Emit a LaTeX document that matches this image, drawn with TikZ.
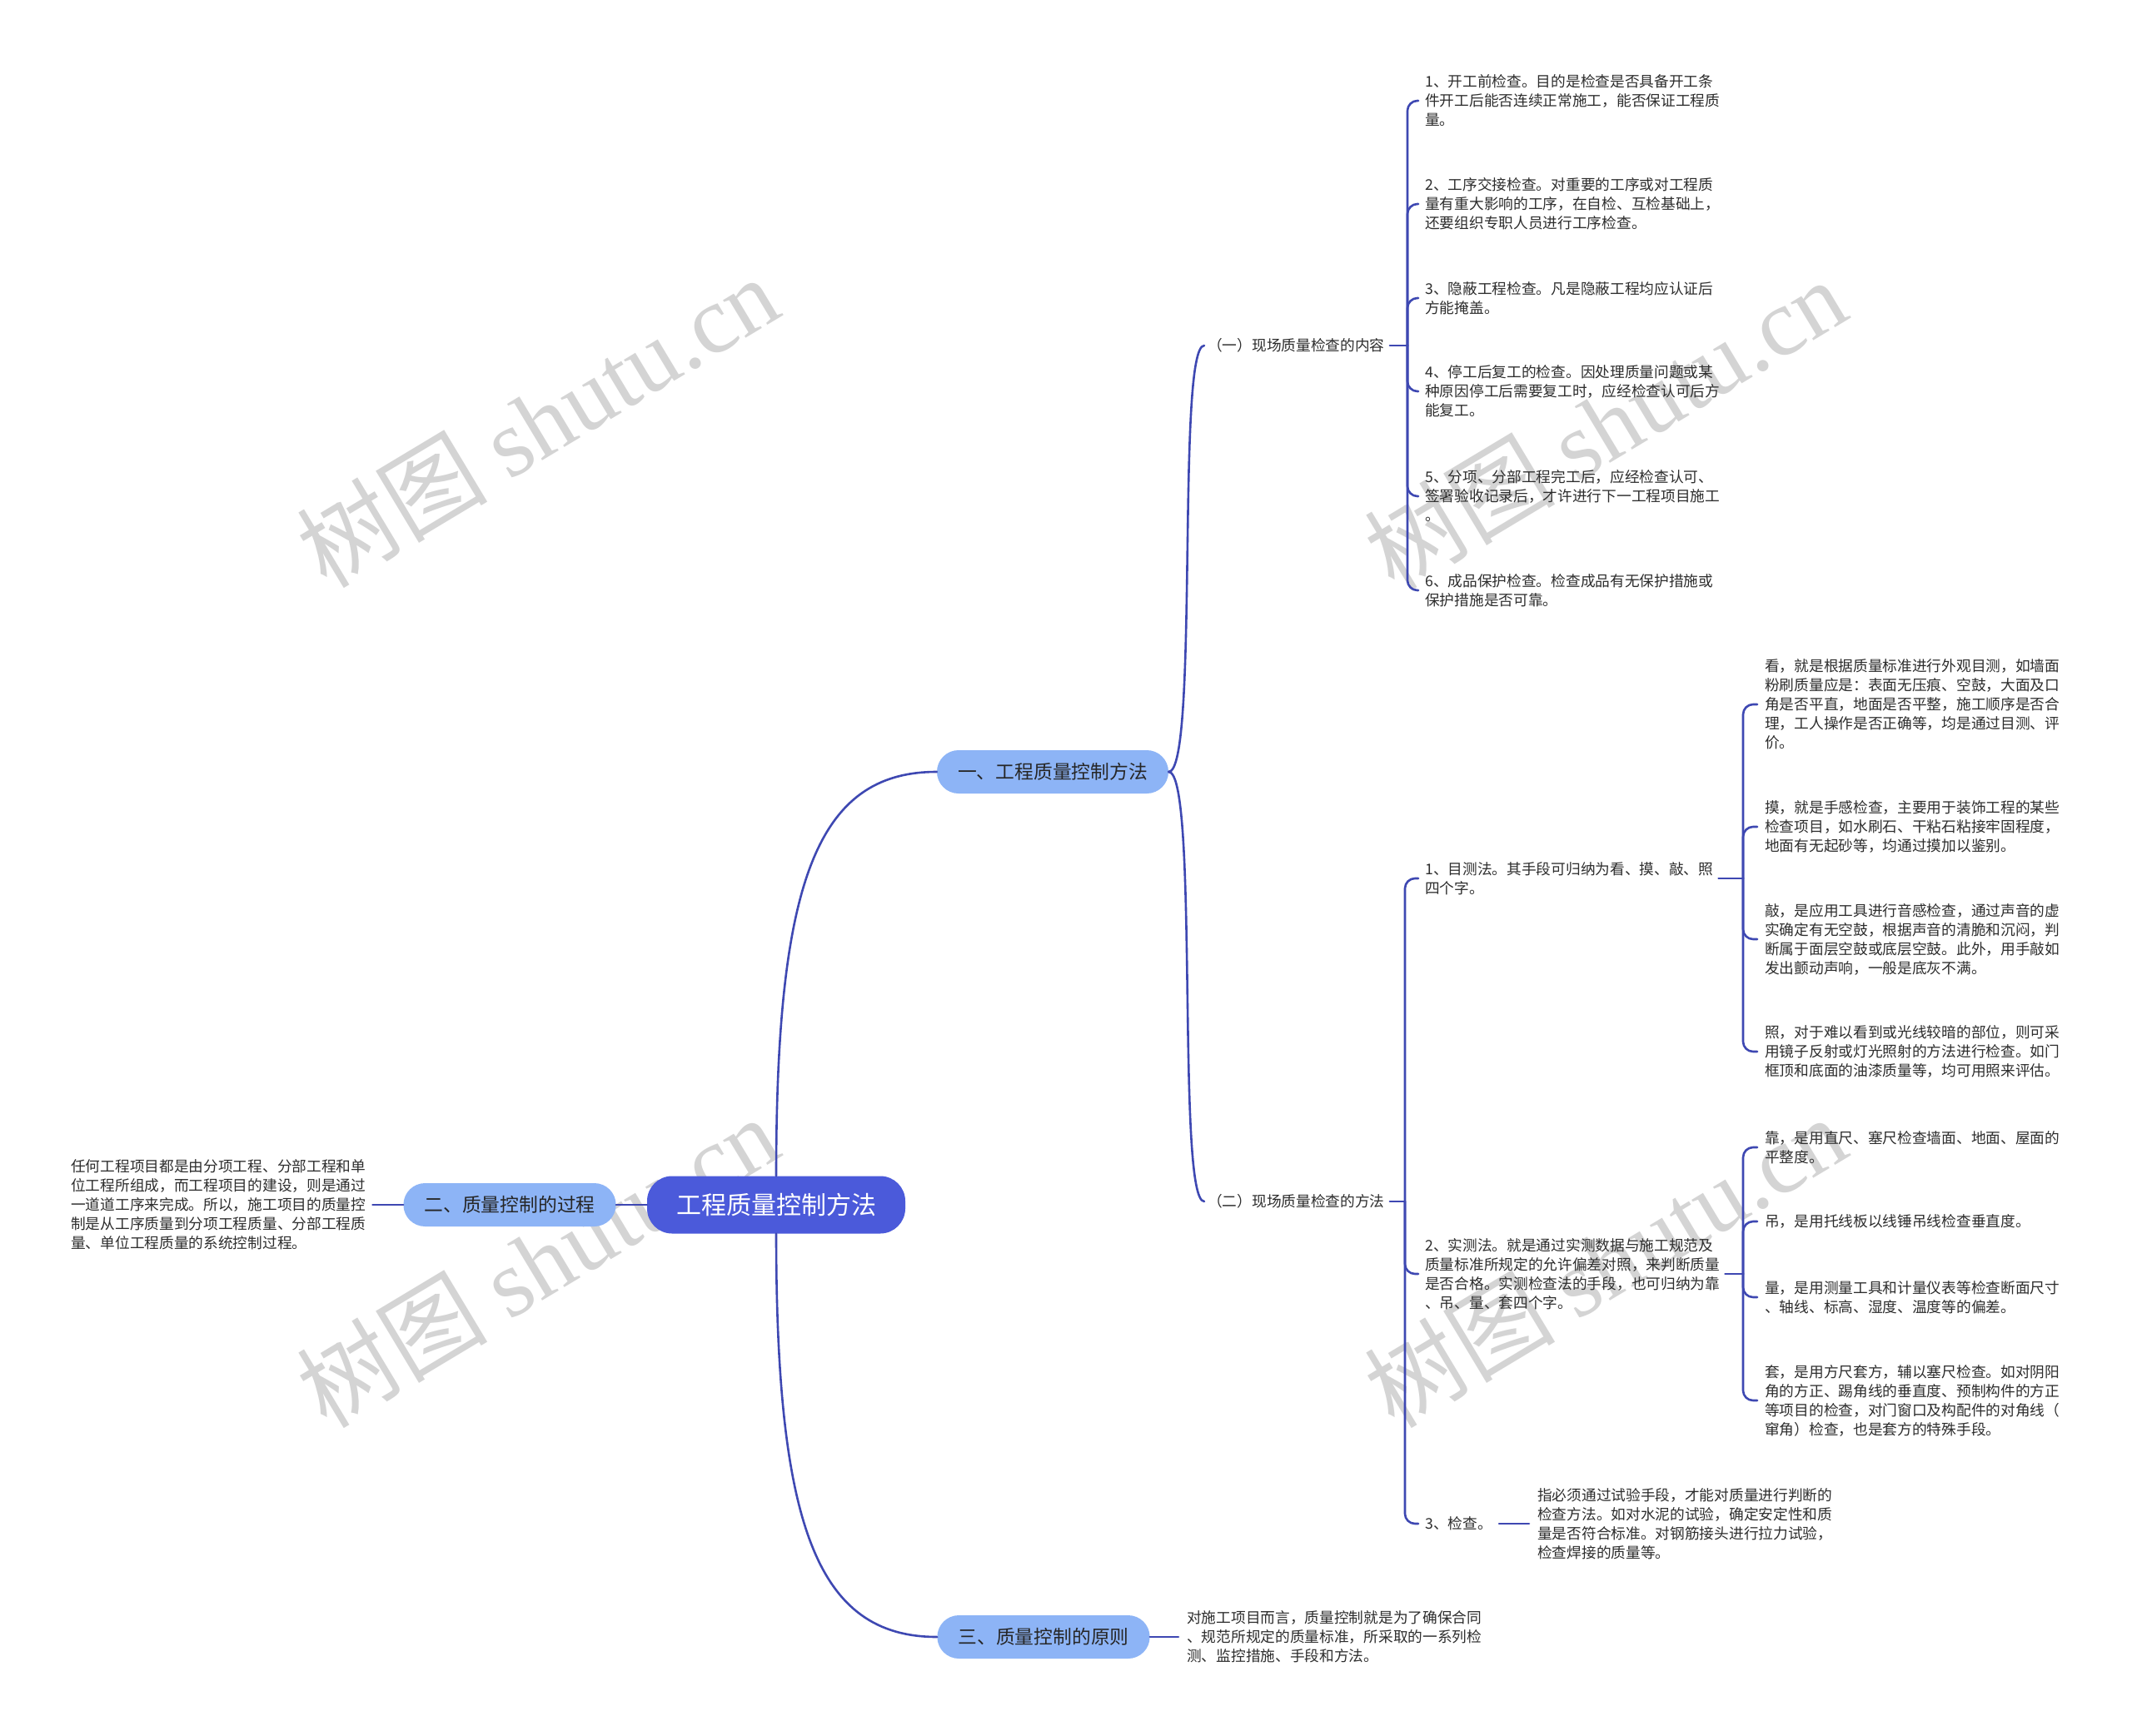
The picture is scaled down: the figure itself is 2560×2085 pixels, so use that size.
\documentclass[tikz,border=0pt]{standalone}
\usepackage{fontspec}
\setmainfont{Noto Sans CJK SC}
\newfontfamily\wmlatin{Liberation Serif}
\definecolor{lineblue}{RGB}{62,72,178}
\definecolor{rootblue}{RGB}{75,90,218}
\definecolor{pillblue}{RGB}{141,180,246}
\definecolor{txt}{RGB}{45,45,45}
\definecolor{wmgray}{RGB}{212,212,212}
\begin{document}
\begin{tikzpicture}[x=1pt,y=-1pt,
  conn/.style={draw=lineblue,line width=2.6pt,line cap=round},
  hook/.style={conn,rounded corners=12pt},
  leaf/.style={inner sep=0pt,anchor=west,align=left,text=txt,font=\fontsize{17.7}{23}\selectfont},
  pill/.style={rounded corners=26pt,fill=pillblue,minimum height=52pt,inner xsep=25pt,text=black!85,font=\fontsize{22.8}{26}\selectfont},
  rootbox/.style={rounded corners=30pt,fill=rootblue,minimum height=69pt,inner xsep=35pt,text=white,font=\fontsize{30}{34}\selectfont},
  wm/.style={text=wmgray,rotate=31,font=\fontsize{115}{120}\selectfont}
]
\fill[white] (0,0) rectangle (2560,2085);
\useasboundingbox (0,0) rectangle (2560,2085);

% watermarks
\node[wm] (w1) at (645,506) {树图 {\wmlatin shutu.cn}};
\node[wm] (w2) at (1927,509) {树图 {\wmlatin shutu.cn}};
\node[wm] (w3) at (645,1515) {树图 {\wmlatin shutu.cn}};
\node[wm] (w4) at (1927,1515) {树图 {\wmlatin shutu.cn}};

% main nodes
\node[rootbox] (root) at (932,1447) {工程质量控制方法};
\node[pill] (n1) at (1264,927) {一、工程质量控制方法};
\node[pill] (n2) at (612,1447) {二、质量控制的过程};
\node[pill] (n3) at (1253,1966) {三、质量控制的原则};

\node[leaf] (t2) at (85,1447) {任何工程项目都是由分项工程、分部工程和单\\位工程所组成，而工程项目的建设，则是通过\\一道道工序来完成。所以，施工项目的质量控\\制是从工序质量到分项工程质量、分部工程质\\量、单位工程质量的系统控制过程。};
\node[leaf] (t3) at (1425,1966) {对施工项目而言，质量控制就是为了确保合同\\、规范所规定的质量标准，所采取的一系列检\\测、监控措施、手段和方法。};

\node[leaf] (L1) at (1450,415) {（一）现场质量检查的内容};
\node[leaf] (L2) at (1450,1443) {（二）现场质量检查的方法};

\node[leaf] (c1) at (1711,121) {1、开工前检查。目的是检查是否具备开工条\\件开工后能否连续正常施工，能否保证工程质\\量。};
\node[leaf] (c2) at (1711,245) {2、工序交接检查。对重要的工序或对工程质\\量有重大影响的工序，在自检、互检基础上，\\还要组织专职人员进行工序检查。};
\node[leaf] (c3) at (1711,358) {3、隐蔽工程检查。凡是隐蔽工程均应认证后\\方能掩盖。};
\node[leaf] (c4) at (1711,470) {4、停工后复工的检查。因处理质量问题或某\\种原因停工后需要复工时，应经检查认可后方\\能复工。};
\node[leaf] (c5) at (1711,596) {5、分项、分部工程完工后，应经检查认可、\\签署验收记录后，才许进行下一工程项目施工\\。};
\node[leaf] (c6) at (1711,709) {6、成品保护检查。检查成品有无保护措施或\\保护措施是否可靠。};

\node[leaf] (d1) at (1711,1055) {1、目测法。其手段可归纳为看、摸、敲、照\\四个字。};
\node[leaf] (d2) at (1711,1530) {2、实测法。就是通过实测数据与施工规范及\\质量标准所规定的允许偏差对照，来判断质量\\是否合格。实测检查法的手段，也可归纳为靠\\、吊、量、套四个字。};
\node[leaf] (d3) at (1711,1830) {3、检查。};

\node[leaf] (e1) at (2119,846) {看，就是根据质量标准进行外观目测，如墙面\\粉刷质量应是：表面无压痕、空鼓，大面及口\\角是否平直，地面是否平整，施工顺序是否合\\理，工人操作是否正确等，均是通过目测、评\\价。};
\node[leaf] (e2) at (2119,993) {摸，就是手感检查，主要用于装饰工程的某些\\检查项目，如水刷石、干粘石粘接牢固程度，\\地面有无起砂等，均通过摸加以鉴别。};
\node[leaf] (e3) at (2119,1128) {敲，是应用工具进行音感检查，通过声音的虚\\实确定有无空鼓，根据声音的清脆和沉闷，判\\断属于面层空鼓或底层空鼓。此外，用手敲如\\发出颤动声响，一般是底灰不满。};
\node[leaf] (e4) at (2119,1263) {照，对于难以看到或光线较暗的部位，则可采\\用镜子反射或灯光照射的方法进行检查。如门\\框顶和底面的油漆质量等，均可用照来评估。};

\node[leaf] (f1) at (2119,1378) {靠，是用直尺、塞尺检查墙面、地面、屋面的\\平整度。};
\node[leaf] (f2) at (2119,1467) {吊，是用托线板以线锤吊线检查垂直度。};
\node[leaf] (f3) at (2119,1558) {量，是用测量工具和计量仪表等检查断面尺寸\\、轴线、标高、湿度、温度等的偏差。};
\node[leaf] (f4) at (2119,1682) {套，是用方尺套方，辅以塞尺检查。如对阴阳\\角的方正、踢角线的垂直度、预制构件的方正\\等项目的检查，对门窗口及构配件的对角线（\\窜角）检查，也是套方的特殊手段。};

\node[leaf] (g1) at (1846,1830) {指必须通过试验手段，才能对质量进行判断的\\检查方法。如对水泥的试验，确定安定性和质\\量是否符合标准。对钢筋接头进行拉力试验，\\检查焊接的质量等。};

% junctions
\coordinate (j1) at (1690,415);
\coordinate (j2) at (1687,1443);
\coordinate (j3) at (2093,1055);
\coordinate (j4) at (2093,1530);

% root connectors
\draw[conn] (root.west) -- (n2.east);
\draw[conn] (n2.west) -- ([xshift=8pt]t2.east);
\draw[conn] (root.north) .. controls (932,1061) and (980,927) .. (n1.west);
\draw[conn] (root.south) .. controls (932,1830) and (980,1966) .. (n3.west);
\draw[conn] (n3.east) -- ([xshift=-10pt]t3.west);

% level 2
\draw[conn] (n1.east) .. controls (1440,927) and (1412,415) .. ([xshift=-4pt]L1.west);
\draw[conn] (n1.east) .. controls (1440,927) and (1412,1443) .. ([xshift=-4pt]L2.west);

% bracket for (一)
\draw[conn] ([xshift=6pt]L1.east) -- (j1);
\foreach \c in {c1,c2,c3,c4,c5,c6}
  \draw[hook] (j1) |- ([xshift=-8pt]\c.west);

% bracket for (二)
\draw[conn] ([xshift=6pt]L2.east) -- (j2);
\foreach \c in {d1,d2,d3}
  \draw[hook] (j2) |- ([xshift=-8pt]\c.west);

% bracket for d1
\draw[conn] ([xshift=6pt]d1.east) -- (j3);
\foreach \c in {e1,e2,e3,e4}
  \draw[hook] (j3) |- ([xshift=-9pt]\c.west);

% bracket for d2
\draw[conn] ([xshift=6pt]d2.east) -- (j4);
\foreach \c in {f1,f2,f3,f4}
  \draw[hook] (j4) |- ([xshift=-9pt]\c.west);

% d3 to g1
\draw[conn] ([xshift=8pt]d3.east) -- ([xshift=-10pt]g1.west);
\end{tikzpicture}
\end{document}
